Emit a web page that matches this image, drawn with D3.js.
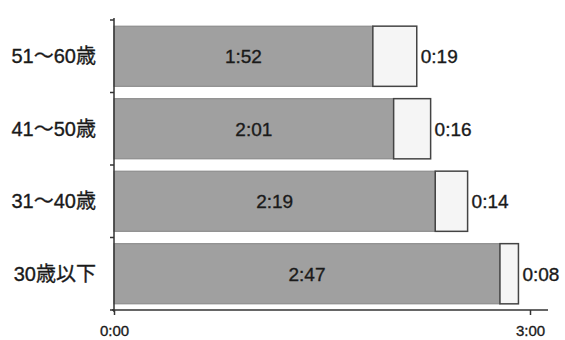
<!DOCTYPE html>
<html>
<head>
<meta charset="utf-8">
<script src="https://cdn.jsdelivr.net/npm/d3@7"></script>
<style>
  html, body { margin: 0; padding: 0; background: #fff; }
  svg { display: block; }
  text { font-family: "Liberation Sans", Arial, "Noto Sans CJK JP", sans-serif; fill: #1a1a1a; stroke: #1a1a1a; stroke-width: 0.35px; }
</style>
</head>
<body>
<svg id="chart" width="565" height="340"></svg>
<script>
const categories = ["51〜60歳", "41〜50歳", "31〜40歳", "30歳以下"];
const mainMinutes = [112, 121, 139, 167];   // 1:52, 2:01, 2:19, 2:47
const extraMinutes = [19, 16, 14, 8];       // 0:19, 0:16, 0:14, 0:08
const xTickValues = [0, 180];
const xTickLabels = ["0:00", "3:00"];

(function () {
const fmt = m => Math.floor(m / 60) + ":" + String(m % 60).padStart(2, "0");

const svg = d3.select("#chart");
const mLeft = 114, mRight = 530, mTop = 20, mBottom = 310;

const x = d3.scaleLinear().domain([0, 180]).range([mLeft, mRight]);
const y = d3.scaleBand().domain(categories).range([mTop, mBottom]).paddingInner(0.17).paddingOuter(0.085);

const data = categories.map((c, i) => ({ c, a: mainMinutes[i], b: extraMinutes[i] }));

svg.selectAll("rect.main").data(data).join("rect")
  .attr("class", "main")
  .attr("x", x(0))
  .attr("y", d => y(d.c))
  .attr("width", d => x(d.a) - x(0))
  .attr("height", y.bandwidth())
  .attr("fill", "#a0a0a0")
  .attr("stroke", "#858585")
  .attr("stroke-width", 1);

svg.selectAll("rect.extra").data(data).join("rect")
  .attr("class", "extra")
  .attr("x", d => x(d.a))
  .attr("y", d => y(d.c))
  .attr("width", d => x(d.a + d.b) - x(d.a))
  .attr("height", y.bandwidth())
  .attr("fill", "#f5f5f5")
  .attr("stroke", "#444")
  .attr("stroke-width", 1.5);

svg.selectAll("text.inner").data(data).join("text")
  .attr("class", "inner")
  .attr("x", d => (x(0) + x(d.a)) / 2)
  .attr("y", d => y(d.c) + y.bandwidth() / 2)
  .attr("dy", "0.36em")
  .attr("text-anchor", "middle")
  .attr("font-size", 19)
  .text(d => fmt(d.a));

svg.selectAll("text.outer").data(data).join("text")
  .attr("class", "outer")
  .attr("x", d => x(d.a + d.b) + 4)
  .attr("y", d => y(d.c) + y.bandwidth() / 2)
  .attr("dy", "0.36em")
  .attr("font-size", 19)
  .text(d => fmt(d.b));

svg.selectAll("text.cat").data(data).join("text")
  .attr("class", "cat")
  .attr("x", 96)
  .attr("y", d => y(d.c) + y.bandwidth() / 2)
  .attr("dy", "0.36em")
  .attr("text-anchor", "end")
  .attr("font-size", 20)
  .text(d => d.c);

const yAxisG = svg.append("g");
yAxisG.append("line")
  .attr("x1", mLeft).attr("x2", mLeft)
  .attr("y1", mTop - 2).attr("y2", mBottom + 2)
  .attr("stroke", "#333").attr("stroke-width", 1.5);
const bounds = d3.range(categories.length + 1).map(i => mTop + i * (mBottom - mTop) / categories.length);
yAxisG.selectAll("line.t").data(bounds).join("line")
  .attr("class", "t")
  .attr("x1", mLeft - 4).attr("x2", mLeft)
  .attr("y1", d => d).attr("y2", d => d)
  .attr("stroke", "#333").attr("stroke-width", 1.5);

const xAxis = d3.axisBottom(x)
  .tickValues(xTickValues)
  .tickFormat((d, i) => xTickLabels[i])
  .tickSize(5)
  .tickSizeOuter(0);
const xg = svg.append("g").attr("transform", `translate(0,${mBottom})`).call(xAxis);
xg.select(".domain").attr("d", `M${mLeft - 2},0H548`).attr("stroke", "#333").attr("stroke-width", 1.5);
xg.selectAll(".tick line").attr("stroke", "#333").attr("stroke-width", 1.5);
xg.selectAll(".tick text")
  .attr("y", 15)
  .attr("font-size", 15)
  .attr("fill", "#1a1a1a")
  .style("font-family", "'Liberation Sans', Arial, sans-serif");
})();
</script>
</body>
</html>
